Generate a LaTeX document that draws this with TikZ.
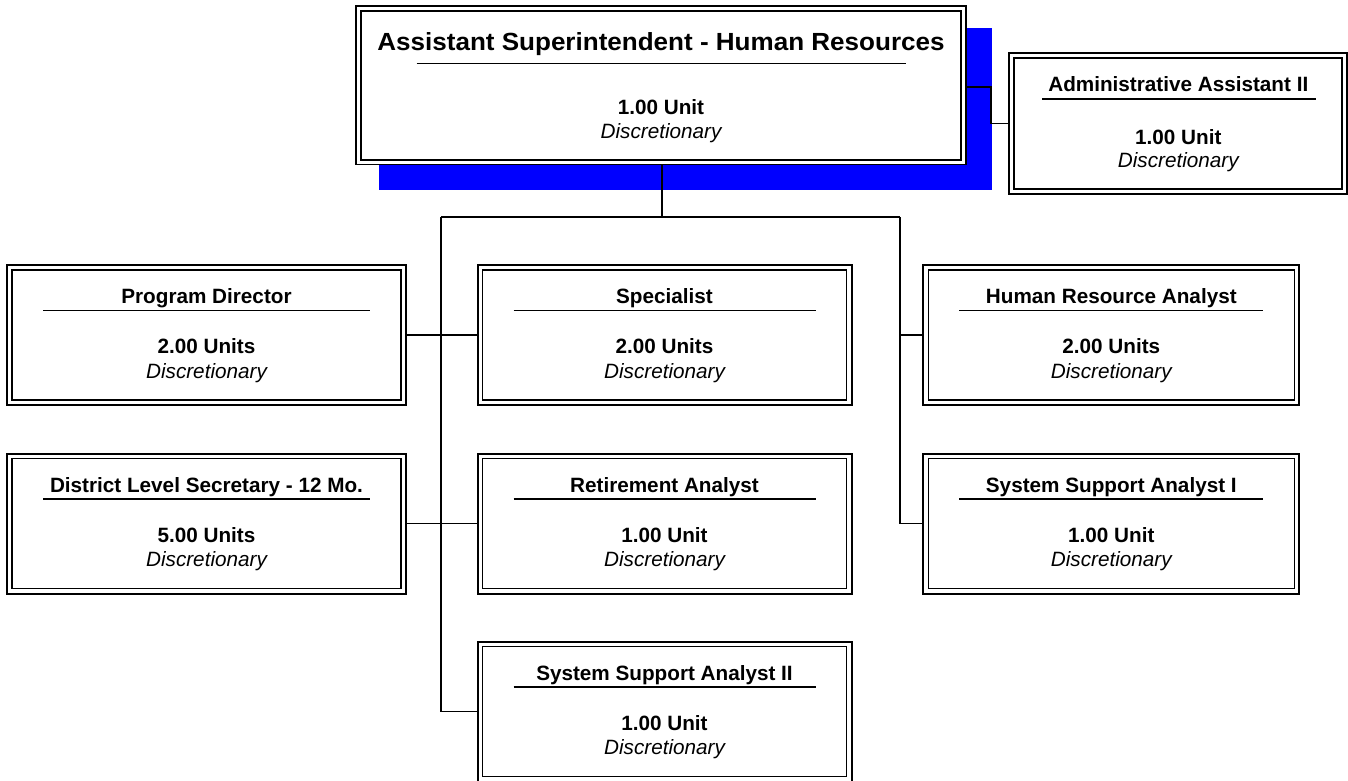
\documentclass[tikz,border=0pt]{standalone}
\usepackage{fontspec}
\setmainfont{Liberation Sans}
\newcommand{\dblbox}[7]{% name, cx, cy, w, h, outer lw, inner lw
  \node[box, line width=#6, minimum width={#4}, minimum height={#5}] (#1) at (#2,#3) {};
  \draw[line width=#7] ([shift={(5,5)}]#1.north west) rectangle ([shift={(-5,-5)}]#1.south east);
}
\newcommand{\rowbox}[6]{% name, left, right, top, title, units
  \dblbox{#1}{{(#2+#3)/2}}{{#4+70}}{#3-#2}{140}{2pt}{1.4pt}
  \node[ttl, anchor=base] (#1-t) at ({(#2+#3)/2},{#4+38.5}) {#5};
  \draw[rule] ({#2+36},{#4+45.3}) -- ({#3-36},{#4+45.3});
  \node[ttl, anchor=base] (#1-u) at ({(#2+#3)/2},{#4+88.5}) {#6};
  \node[disc, anchor=base] (#1-d) at ({(#2+#3)/2},{#4+113}) {Discretionary};
}
\begin{document}
\begin{tikzpicture}[x=1pt,y=-1pt,
  box/.style={draw=black, fill=white, inner sep=0pt, outer sep=0pt},
  ttl/.style={font=\fontsize{20.7}{25}\selectfont\bfseries, inner sep=0pt},
  big/.style={font=\fontsize{24.8}{30}\selectfont\bfseries, inner sep=0pt},
  disc/.style={font=\fontsize{20.7}{25}\selectfont\itshape, inner sep=0pt},
  rule/.style={line width=1.6pt},
  link/.style={line width=1.5pt},
  shadowbox/.style={fill=blue, draw=none, inner sep=0pt, outer sep=0pt}
]
\useasboundingbox (0,0) rectangle (1348,780);

% shadow of the top box
\node[shadowbox, minimum width=613, minimum height=162] (topshadow) at (685.5,109) {};

% top box
\dblbox{top}{661}{85.3}{610}{158.7}{1.4pt}{2pt}
\node[big, anchor=base] (top-t) at (661,50) {\scalebox{1.05}[1]{Assistant Superintendent - Human Resources}};
\draw[rule] (416.7,63.3) -- (906,63.3);
\node[ttl, anchor=base] (top-u) at (661,114) {1.00 Unit};
\node[disc, anchor=base] (top-d) at (661,138.3) {Discretionary};

% admin box
\dblbox{admin}{1178}{123.5}{338}{141}{1.4pt}{2pt}
\node[ttl, anchor=base] (admin-t) at (1178.3,91.3) {Administrative Assistant II};
\draw[rule] (1042.3,98.7) -- (1316,98.7);
\node[ttl, anchor=base] (admin-u) at (1178.3,144.7) {1.00 Unit};
\node[disc, anchor=base] (admin-d) at (1178.3,167) {Discretionary};

% row boxes
\rowbox{pd}{7}{406}{265}{Program Director}{2.00 Units}
\rowbox{spec}{477.5}{851.5}{265}{Specialist}{2.00 Units}
\rowbox{hra}{923.3}{1299.3}{265}{Human Resource Analyst}{2.00 Units}
\rowbox{dls}{7}{406}{453.5}{District Level Secretary - 12 Mo.}{5.00 Units}
\rowbox{ret}{477.5}{851.5}{453.5}{Retirement Analyst}{1.00 Unit}
\rowbox{ssa1}{923.3}{1299.3}{453.5}{System Support Analyst I}{1.00 Unit}
\rowbox{ssa2}{477.5}{851.5}{641.5}{System Support Analyst II}{1.00 Unit}

% junctions
\coordinate (jT) at (662,217);
\coordinate (jL) at (441,217);
\coordinate (jR) at (900,217);
\coordinate (jA) at (991,87);

% connectors
\draw[link] (top.south -| jT) -- (jT);
\draw[link] (jL) -- (jR);
\draw[link] (jL) |- (ssa2.west);
\draw[link] (pd.east) -- (spec.west);
\draw[link] (dls.east) -- (ret.west);
\draw[link] (jR) |- (hra.west);
\draw[link] (jR) |- (ssa1.west);
\draw[link] (top.east |- jA) -- (jA) |- (admin.west);
\end{tikzpicture}
\end{document}
